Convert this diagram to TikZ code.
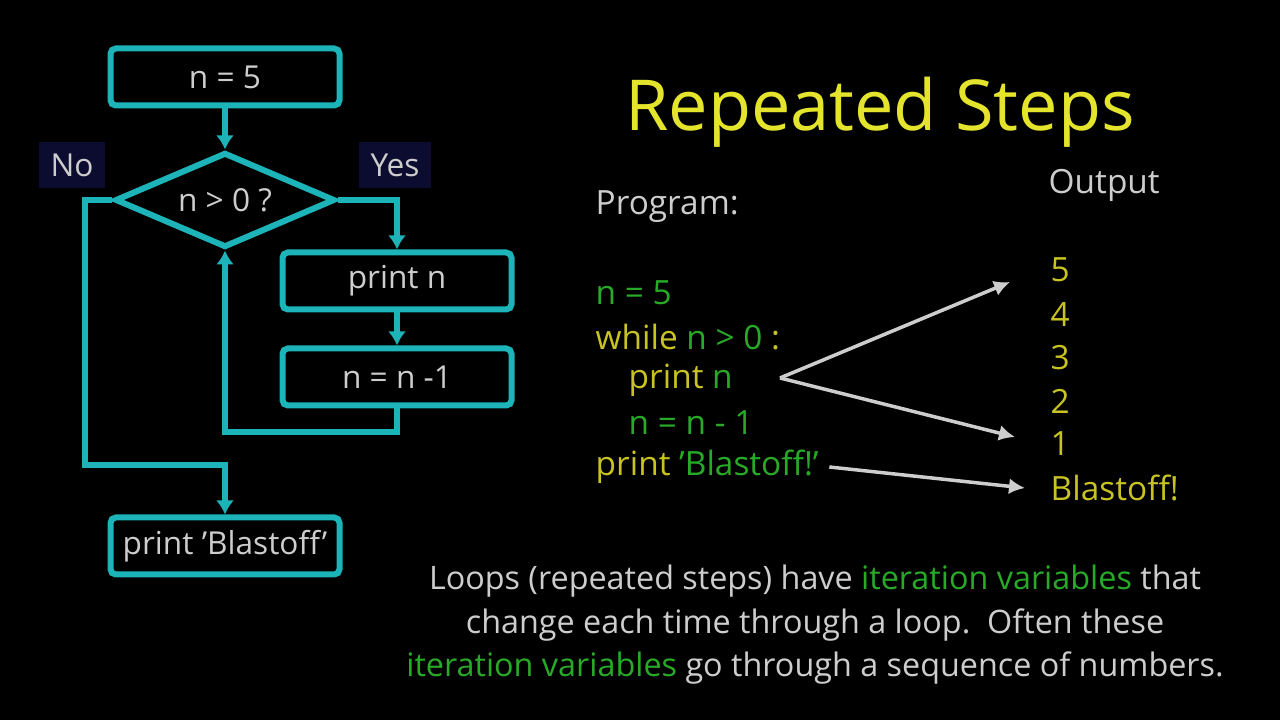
\documentclass[tikz,border=0pt]{standalone}
\usepackage{fontspec}
\setmainfont{Open Sans}
\usetikzlibrary{arrows.meta,shapes.geometric}

\definecolor{flowcyan}{RGB}{28,180,185}
\definecolor{softgray}{RGB}{205,205,205}
\definecolor{labelnavy}{RGB}{12,12,48}
\definecolor{codegreen}{RGB}{40,170,40}
\definecolor{codeyellow}{RGB}{200,195,35}
\definecolor{titleyellow}{RGB}{228,228,45}

\begin{document}
\begin{tikzpicture}[
		flowbox/.style={
		% The shape:
		rectangle,
		rounded corners=1.5pt,
		% The size:
		minimum width=2.29cm,
		minimum height=0.57cm,
		% The border:
		line width=0.06cm,
		draw=flowcyan,
		% Font
		text=softgray,
		font=\fontsize{9}{11}\selectfont
		},
		flowtest/.style={
		diamond,
		aspect=2.3,
		minimum width=2.2cm,
		minimum height=0.95cm,
		inner sep=0pt,
		line width=0.06cm,
		draw=flowcyan,
		text=softgray,
		font=\fontsize{9}{11}\selectfont
		},
		flowlabel/.style={
		fill=labelnavy,
		text=softgray,
		minimum width=0.55cm,
		minimum height=0.42cm,
		font=\fontsize{9}{11}\selectfont
		},
		flow/.style={
		line width=0.06cm,
		draw=flowcyan,
		-{Latex[length=1.4mm,width=1.8mm]}
		},
		codeline/.style={
		anchor=west,
		inner sep=0pt,
		font=\fontsize{9.5}{11}\selectfont
		},
		outline/.style={
		anchor=west,
		inner sep=0pt,
		text=codeyellow,
		font=\fontsize{9.5}{11}\selectfont
		},
		outarrow/.style={
		line width=0.035cm,
		draw=softgray,
		-{Latex[length=1.6mm,width=1.6mm]}
		}
	]
	\useasboundingbox (0,0) rectangle (12.8,7.2);
	\fill[black] (0,0) rectangle (12.8,7.2);

	% flowchart
	\node (N5)[flowbox] at (2.25,6.43) {n = 5};
	\node (TEST)[flowtest] at (2.25,5.20) {n > 0 ?};
	\node (PRINTN)[flowbox] at (3.97,4.39) {print n};
	\node (DEC)[flowbox] at (3.97,3.43) {n = n -1};
	\node (BLAST)[flowbox] at (2.25,1.74) {print 'Blastoff'};
	\node (NO)[flowlabel] at (0.72,5.55) {No};
	\node (YES)[flowlabel] at (3.95,5.55) {Yes};
	\coordinate (LOOPTURN) at (3.97,2.88);
	\coordinate (NOTURN) at (0.85,2.55);

	\draw [flow] (N5) -- (TEST);
	\draw [flow] (TEST.east) -| (PRINTN.north);
	\draw [flow] (PRINTN) -- (DEC);
	\draw [flow] (DEC.south) -- (LOOPTURN) -| (TEST.south);
	\draw [flow] (TEST.west) -| (NOTURN) -| (BLAST.north);

	% program and output
	\node (TITLE) at (8.80,6.08) [text=titleyellow, font=\fontsize{20}{24}\selectfont] {Repeated Steps};
	\node (PROG)[codeline, text=softgray] at (5.95,5.13) {Program:};
	\node (OUT)[codeline, text=softgray] at (10.48,5.35) {Output};

	\node (C1)[codeline] at (5.95,4.27) {\textcolor{codegreen}{n = 5}};
	\node (C2)[codeline] at (5.95,3.83) {\textcolor{codeyellow}{while} \textcolor{codegreen}{n > 0} \textcolor{codeyellow}{:}};
	\node (C3)[codeline] at (6.28,3.40) {\textcolor{codeyellow}{print} \textcolor{codegreen}{n}};
	\node (C4)[codeline] at (6.28,2.97) {\textcolor{codegreen}{n = n - 1}};
	\node (C5)[codeline] at (5.95,2.53) {\textcolor{codeyellow}{print} \textcolor{codegreen}{'Blastoff!'}};

	\node (O5)[outline] at (10.50,4.50) {5};
	\node (O4)[outline] at (10.50,4.05) {4};
	\node (O3)[outline] at (10.50,3.62) {3};
	\node (O2)[outline] at (10.50,3.19) {2};
	\node (O1)[outline] at (10.50,2.76) {1};
	\node (OB)[outline] at (10.50,2.32) {Blastoff!};

	\coordinate (FORK) at (7.80,3.42);
	\draw [outarrow] (FORK) -- ([xshift=-0.4cm,yshift=-0.12cm]O5.west);
	\draw [outarrow] (FORK) -- ([xshift=-0.35cm,yshift=0.07cm]O1.west);
	\draw [outarrow] ([xshift=0.1cm]C5.east) -- ([xshift=-0.25cm]OB.west);

	\node (NOTE)[align=center, text=softgray, font=\fontsize{9.2}{12.4}\selectfont] at (8.15,0.95)
		{Loops (repeated steps) have \textcolor{codegreen}{iteration variables} that\\
		change each time through a loop.\ \ Often these\\
		\textcolor{codegreen}{iteration variables} go through a sequence of numbers.};
\end{tikzpicture}
\end{document}
